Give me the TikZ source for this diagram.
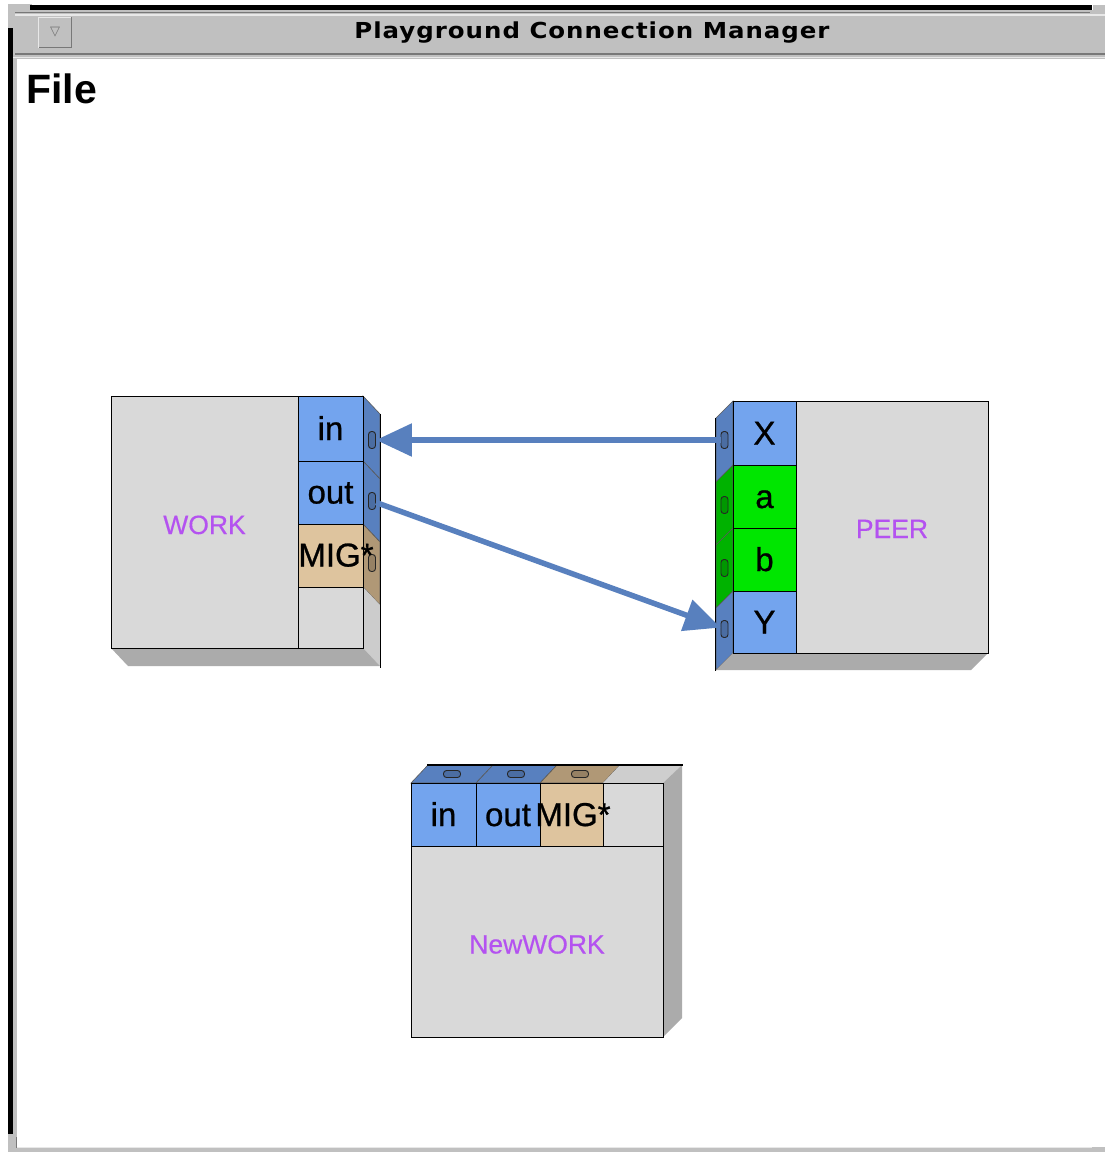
\documentclass[tikz,border=0pt]{standalone}
\usepackage{graphicx}
\usepackage{fontspec}
\setmainfont{Liberation Sans}
\newfontfamily\titlefont[LetterSpace=4]{DejaVu Sans}
\newfontfamily\portfont[FakeBold=0.8]{Liberation Sans}
\newfontfamily\namefont[FakeBold=0.4]{Liberation Sans}
\newfontfamily\symfont{DejaVu Sans}
\usetikzlibrary{arrows.meta}
\definecolor{framegray}{RGB}{192,192,192}
\definecolor{framedark}{RGB}{120,120,120}
\definecolor{framelight}{RGB}{232,232,232}
\definecolor{boxgray}{RGB}{217,217,217}
\definecolor{sidegray}{RGB}{204,204,204}
\definecolor{shadowgray}{RGB}{171,171,171}
\definecolor{portblue}{RGB}{115,164,238}
\definecolor{bluedk}{RGB}{88,128,191}
\definecolor{porttan}{RGB}{222,196,158}
\definecolor{tandk}{RGB}{176,152,118}
\definecolor{portgreen}{RGB}{0,230,0}
\definecolor{greendk}{RGB}{0,178,0}
\definecolor{labelpurple}{RGB}{180,82,240}
\definecolor{wireblue}{RGB}{88,128,190}
\tikzset{
  cell/.style={draw=black, line width=1.3pt, inner sep=0pt, anchor=north west},
  face/.style={draw=black!65, line width=0.6pt},
  capv/.style={draw=black!85, line width=0.9pt, rounded corners=3pt, minimum width=7pt, minimum height=17pt, inner sep=0pt, fill=#1},
  caph/.style={draw=black!85, line width=0.9pt, rounded corners=3pt, minimum width=17pt, minimum height=7pt, inner sep=0pt, fill=#1},
  plbl/.style={font=\portfont\fontsize{33}{33}\selectfont, anchor=base, inner sep=0pt, text=black},
  nlbl/.style={font=\namefont\fontsize{26.5}{26.5}\selectfont, anchor=base, inner sep=0pt, text=labelpurple},
  wire/.style={draw=wireblue, line width=5.5pt, -{Triangle[length=36pt,width=32pt]}}
}
\begin{document}
\begin{tikzpicture}[x=1pt,y=-1pt]
\useasboundingbox (0,0) rectangle (1105,1152);
\fill[white] (0,0) rectangle (1105,1152);
% window frame
\fill[framegray] (8,4) rectangle (32,28);
\fill[black] (30,5) rectangle (1092,9.5);
\fill[framegray] (1093,5) rectangle (1105,16);
\fill[framegray] (13,9.5) rectangle (1105,59);
\draw[framedark, line width=1.2pt] (15,12.5) -- (1090,12.5);
\draw[framelight, line width=1.5pt] (15,15) -- (1105,15);
\draw[framedark, line width=2pt] (15,54) -- (1105,54);
\draw[framelight, line width=1.5pt] (13,57.5) -- (1105,57.5);
\fill[black] (8,28) rectangle (12.5,1134);
\fill[framegray] (12.5,59) rectangle (17,1147);
\fill[framegray] (8,1134) rectangle (17,1152);
\draw[framedark, line width=1pt] (16,1137) -- (16,1148);
\fill[framegray] (17,1147) rectangle (1105,1152);
\draw[framelight, line width=1pt] (17,1147.5) -- (1092,1147.5);
% menu button
\node[fill=framegray, minimum width=32pt, minimum height=30pt, inner sep=0pt] (menubtn) at (55,32.5) {};
\draw[framelight, line width=1.3pt] (menubtn.south west) -- (menubtn.north west) -- (menubtn.north east);
\draw[framedark, line width=1.3pt] (menubtn.north east) -- (menubtn.south east) -- (menubtn.south west);
\node[text=black!55, font=\symfont\fontsize{13}{13}\selectfont, inner sep=0pt] (menutri) at (menubtn) {▽};
% title and menu
\node[font=\titlefont\bfseries\fontsize{22}{24}\selectfont, anchor=base, inner sep=0pt] (title) at (592,38) {\resizebox{475pt}{\height}{Playground Connection Manager}};
\node[font=\bfseries\fontsize{41}{41}\selectfont, anchor=base west, inner sep=0pt] (file) at (26,103) {File};

% ===== WORK =====
\filldraw[face, fill=bluedk] (363,396) -- (380,414) -- (380,479) -- (363,461) -- cycle;
\filldraw[face, fill=bluedk] (363,461) -- (380,479) -- (380,542) -- (363,524) -- cycle;
\filldraw[face, fill=tandk] (363,524) -- (380,542) -- (380,605) -- (363,587) -- cycle;
\fill[sidegray] (363,587) -- (380,605) -- (380,666) -- (363,648) -- cycle;
\fill[shadowgray] (111,648) -- (128,666) -- (380,666) -- (363,648) -- cycle;
\draw[black, line width=1.5pt] (380.5,414) -- (380.5,668);
\node[cell, fill=boxgray, minimum width=187pt, minimum height=252pt] (work) at (111,396) {};
\node[cell, fill=portblue, minimum width=65pt, minimum height=65pt] (work-in) at (298,396) {};
\node[cell, fill=portblue, minimum width=65pt, minimum height=63pt] (work-out) at (298,461) {};
\node[cell, fill=porttan, minimum width=65pt, minimum height=63pt] (work-mig) at (298,524) {};
\node[cell, fill=boxgray, minimum width=65pt, minimum height=61pt] (work-empty) at (298,587) {};
\node[capv=bluedk!85!black] (work-in-c) at (372,440) {};
\node[capv=bluedk!85!black] (work-out-c) at (372,501) {};
\node[capv=tandk!85!black] (work-mig-c) at (372,563) {};
\node[plbl] (work-in-t) at (330.5,440) {in};
\node[plbl] (work-out-t) at (330.5,503.5) {out};
\node[plbl] (work-mig-t) at (336,566.5) {MIG*};
\node[nlbl] (work-t) at (204.5,534) {WORK};

% ===== PEER =====
\filldraw[face, fill=bluedk] (733,401) -- (716,418) -- (716,482) -- (733,465) -- cycle;
\filldraw[face, fill=greendk] (733,465) -- (716,482) -- (716,545) -- (733,528) -- cycle;
\filldraw[face, fill=greendk] (733,528) -- (716,545) -- (716,608) -- (733,591) -- cycle;
\filldraw[face, fill=bluedk] (733,591) -- (716,608) -- (716,670) -- (733,653) -- cycle;
\fill[shadowgray] (733,653) -- (716,670) -- (971,670) -- (988,653) -- cycle;
\draw[black, line width=1.5pt] (715.5,418) -- (715.5,671);
\node[cell, fill=boxgray, minimum width=192pt, minimum height=252pt] (peer) at (796,401) {};
\node[cell, fill=portblue, minimum width=63pt, minimum height=64pt] (peer-x) at (733,401) {};
\node[cell, fill=portgreen, minimum width=63pt, minimum height=63pt] (peer-a) at (733,465) {};
\node[cell, fill=portgreen, minimum width=63pt, minimum height=63pt] (peer-b) at (733,528) {};
\node[cell, fill=portblue, minimum width=63pt, minimum height=62pt] (peer-y) at (733,591) {};
\node[capv=bluedk!85!black] (peer-x-c) at (724.5,440) {};
\node[capv=greendk!85!black] (peer-a-c) at (724.5,505) {};
\node[capv=greendk!85!black] (peer-b-c) at (724.5,568) {};
\node[capv=bluedk!85!black] (peer-y-c) at (724.5,629) {};
\node[plbl] (peer-x-t) at (764.5,444.5) {X};
\node[plbl] (peer-a-t) at (764.5,508) {a};
\node[plbl] (peer-b-t) at (764.5,571) {b};
\node[plbl] (peer-y-t) at (764.5,633.5) {Y};
\node[nlbl] (peer-t) at (892,538) {PEER};

% ===== NewWORK =====
\filldraw[face, fill=bluedk] (411,783) -- (428,765) -- (493,765) -- (476,783) -- cycle;
\filldraw[face, fill=bluedk] (476,783) -- (493,765) -- (557,765) -- (540,783) -- cycle;
\filldraw[face, fill=tandk] (540,783) -- (557,765) -- (620,765) -- (603,783) -- cycle;
\fill[boxgray!95!black] (603,783) -- (620,765) -- (682,765) -- (663,783) -- cycle;
\fill[shadowgray] (663,783) -- (682,765) -- (682,1018) -- (663,1037) -- cycle;
\draw[black, line width=1.5pt] (427,765) -- (683,765);
\node[cell, fill=boxgray, minimum width=252pt, minimum height=191pt] (newwork) at (411,846) {};
\node[cell, fill=portblue, minimum width=65pt, minimum height=63pt] (nw-in) at (411,783) {};
\node[cell, fill=portblue, minimum width=64pt, minimum height=63pt] (nw-out) at (476,783) {};
\node[cell, fill=porttan, minimum width=63pt, minimum height=63pt] (nw-mig) at (540,783) {};
\node[cell, fill=boxgray, minimum width=60pt, minimum height=63pt] (nw-empty) at (603,783) {};
\node[caph=bluedk!85!black] (nw-in-c) at (452,774) {};
\node[caph=bluedk!85!black] (nw-out-c) at (516,774) {};
\node[caph=tandk!85!black] (nw-mig-c) at (580,774) {};
\node[plbl] (nw-in-t) at (443.5,826) {in};
\node[plbl] (nw-out-t) at (508,826) {out};
\node[plbl] (nw-mig-t) at (573,826) {MIG*};
\node[nlbl] (newwork-t) at (537,953.5) {NewWORK};

% ===== connections =====
\draw[wire] (peer-x-c) -- (work-in-c);
\draw[wire] (work-out-c) -- (peer-y-c);
\end{tikzpicture}
\end{document}
